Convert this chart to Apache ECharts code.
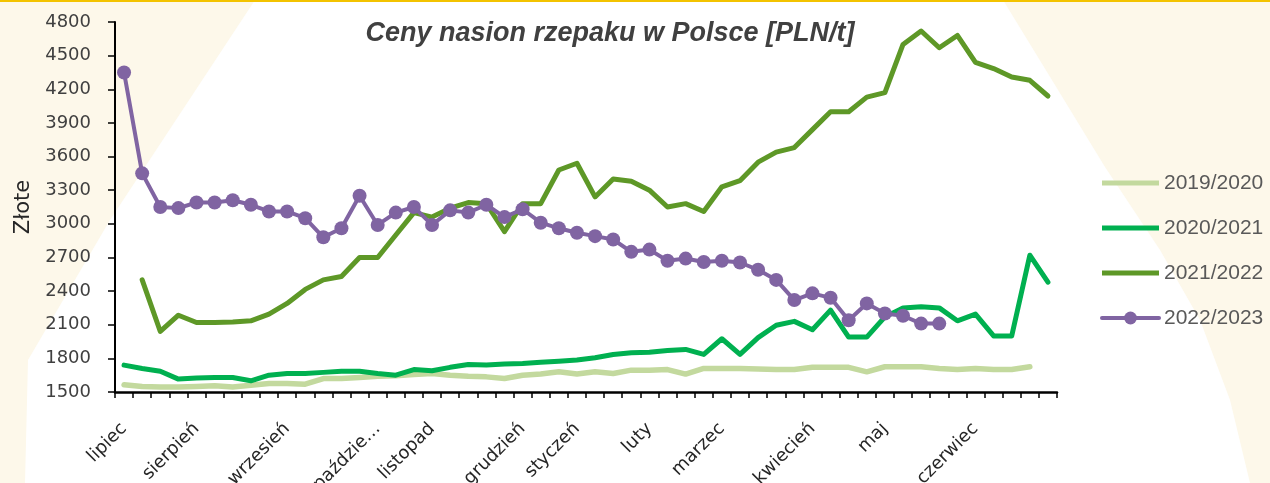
<!DOCTYPE html>
<html>
<head>
<meta charset="utf-8">
<script src="https://cdn.jsdelivr.net/npm/echarts@6/dist/echarts.min.js"></script>
<style>
html,body{margin:0;padding:0;background:#fdf8ea;}
#c{width:1270px;height:483px;}
</style>
</head>
<body>
<div id="c"></div>
<script>
// weekly categories (July .. June); month name on the first week of each month
const categories = [
  'lipiec','','','','sierpień','','','','','wrzesień','','','','',
  'paździe…','','','listopad','','','','','grudzień','','','styczeń','','','',
  'luty','','','','marzec','','','','','kwiecień','','','','maj','','','','',
  'czerwiec','','','',''
];
const yTicks = { min: 1500, max: 4800, interval: 300 };
const seriesNames = ['2019/2020','2020/2021','2021/2022','2022/2023'];

const s2019_2020 = [1565,1550,1545,1545,1550,1555,1545,1560,1575,1575,1570,1620,1620,1630,1640,1645,1655,1665,1650,1640,1635,1620,1650,1660,1680,1660,1680,1665,1695,1695,1700,1660,1710,1710,1710,1705,1700,1700,1720,1720,1720,1680,1725,1725,1725,1710,1700,1710,1700,1700,1725,null];
const s2020_2021 = [1740,1710,1685,1615,1625,1630,1630,1600,1650,1665,1665,1675,1685,1685,1665,1650,1700,1690,1720,1745,1740,1750,1755,1765,1775,1785,1805,1835,1850,1855,1870,1880,1835,1975,1835,1985,2095,2130,2055,2230,1990,1990,2170,2250,2260,2250,2135,2195,2000,2000,2720,2480];
const s2021_2022 = [null,2500,2040,2185,2120,2120,2125,2135,2195,2290,2415,2500,2530,2700,2700,2900,3100,3060,3140,3190,3180,2930,3180,3180,3480,3540,3240,3400,3380,3300,3150,3180,3110,3330,3385,3550,3640,3680,3840,4000,4000,4130,4170,4600,4720,4570,4680,4440,4385,4310,4280,4140];
const s2022_2023 = [4350,3450,3150,3140,3190,3190,3210,3170,3110,3110,3050,2880,2960,3250,2990,3100,3150,2990,3120,3100,3170,3060,3130,3010,2960,2920,2890,2860,2750,2770,2670,2690,2660,2670,2655,2590,2500,2320,2380,2340,2140,2290,2200,2180,2110,2110];

const chart = echarts.init(document.getElementById('c'), null, {renderer:'canvas'});
const lineSeries = (name, data, color, width, withSymbol) => ({
  name, type:'line', data,
  symbol: withSymbol ? 'circle' : 'none',
  symbolSize: 14,
  showSymbol: withSymbol,
  connectNulls: false,
  itemStyle: {color},
  lineStyle: {color, width, cap:'round', join:'round'},
  emphasis: {disabled:true},
  animation: false
});
const BAR_ICON = 'path://M0,0H57V5H0Z';

chart.setOption({
  backgroundColor: '#fdf8ea',
  animation: false,
  graphic: [
    { type:'polygon', z:-100, silent:true,
      shape:{ points:[[255,0],[1003,0],[1055,85],[1105,167],[1160,250],[1200,320],[1230,400],[1250,483],[25,483],[28,360],[110,220]] },
      style:{ fill:'#ffffff' } },
    { type:'rect', z:-90, silent:true, shape:{x:0,y:0,width:1270,height:2}, style:{fill:'#f3c300'} }
  ],
  title: {
    text: 'Ceny nasion rzepaku w Polsce [PLN/t]',
    left: 605, top: 15, textAlign: 'center',
    textStyle: { fontFamily:'Liberation Sans', fontSize:27, fontWeight:'bold', fontStyle:'italic', color:'#404040' }
  },
  legend: {
    orient:'vertical', left:1100, top:172, padding:0,
    itemWidth:57, itemHeight:16, itemGap:23,
    data: [
      {name: seriesNames[0], icon: BAR_ICON},
      {name: seriesNames[1], icon: BAR_ICON},
      {name: seriesNames[2], icon: BAR_ICON},
      {name: seriesNames[3]}
    ],
    lineStyle:{ width:4 },
    textStyle:{ fontFamily:'Liberation Sans', fontSize:21, color:'#595959', lineHeight:22 }
  },
  grid: { left:115, right:213, top:22, bottom:91, containLabel:false, outerBoundsMode:'none' },
  xAxis: {
    type:'category', data: categories, boundaryGap:true,
    axisLine:{ lineStyle:{ color:'#000', width:2.5 } },
    axisTick:{ show:true, interval:0, length:6, lineStyle:{ color:'#000', width:1.5 } },
    axisLabel:{ interval:0, rotate:45, margin:34, fontFamily:'DejaVu Sans', fontSize:18, color:'#262626' }
  },
  yAxis: {
    type:'value', min:yTicks.min, max:yTicks.max, interval:yTicks.interval,
    name:'Złote', nameLocation:'middle', nameGap:80,
    nameTextStyle:{ fontFamily:'DejaVu Sans', fontSize:21, color:'#262626' },
    axisLine:{ show:true, lineStyle:{ color:'#000', width:2 } },
    axisTick:{ show:true, length:7, lineStyle:{ color:'#000', width:1.5 } },
    splitLine:{ show:false },
    axisLabel:{ margin:24, fontFamily:'DejaVu Sans', fontSize:18, color:'#404040', formatter: v => String(v) }
  },
  series: [
    lineSeries(seriesNames[0], s2019_2020, '#c3d99e', 5.5, false),
    lineSeries(seriesNames[1], s2020_2021, '#00b050', 5, false),
    lineSeries(seriesNames[2], s2021_2022, '#5e9827', 5, false),
    lineSeries(seriesNames[3], s2022_2023, '#8064a2', 4, true)
  ]
});
</script>
</body>
</html>
